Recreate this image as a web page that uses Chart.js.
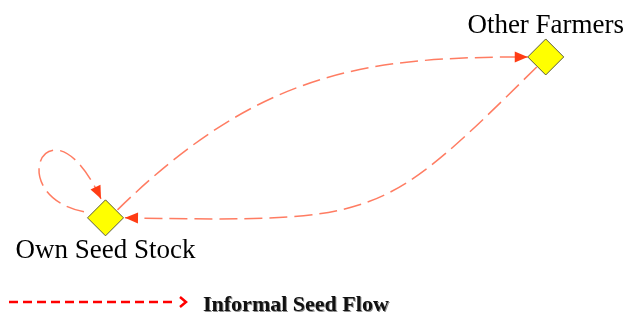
<!DOCTYPE html>
<html>
<head>
<meta charset="utf-8">
<script src="https://cdn.jsdelivr.net/npm/chart.js@4.4.0/dist/chart.umd.min.js"></script>
<style>
  body { margin: 0; background: #fff; }
  #wrap { width: 628px; height: 313px; }
</style>
</head>
<body>
<div id="wrap"><canvas id="seedChart" width="628" height="313"></canvas></div>
<script>
// nodes of the seed flow network (position on a 0-100 grid)
const nodeNames = ['Own Seed Stock', 'Other Farmers'];
const nodeX = [16.8, 86.9];
const nodeY = [30.4, 81.8];

// informal seed flows: from node -> to node
const flowFrom = [0, 1, 0];
const flowTo = [1, 0, 0];

const legendLabel = 'Informal Seed Flow';

// curve shape of each flow, pixels relative to its end nodes
const flowShape = [
  { start: [12, -8], end: [-18, 0], c1: [143, -140], c2: [-160, 0] },
  { start: [-9, 10], end: [19.5, 0], c1: [-157, 155], c2: [255, 4] },
  { start: [-21.5, -6], end: [-4.5, -19], c1: [-84, -17], c2: [-51, -109] }
];
// label baseline offset from node centre
const labelOffset = [40, -24];

const flowPlugin = {
  id: 'flows',
  beforeDatasetsDraw(chart) {
    const ctx = chart.ctx;
    const xs = chart.scales.x, ys = chart.scales.y;
    flowFrom.forEach((f, i) => {
      const t = flowTo[i], s = flowShape[i];
      const ax = xs.getPixelForValue(nodeX[f]), ay = ys.getPixelForValue(nodeY[f]);
      const bx = xs.getPixelForValue(nodeX[t]), by = ys.getPixelForValue(nodeY[t]);
      const p0 = [ax + s.start[0], ay + s.start[1]];
      const p3 = [bx + s.end[0], by + s.end[1]];
      const p1 = [p0[0] + s.c1[0], p0[1] + s.c1[1]];
      const p2 = [p3[0] + s.c2[0], p3[1] + s.c2[1]];
      ctx.save();
      ctx.strokeStyle = 'rgba(255,80,45,0.75)';
      ctx.lineWidth = 1.5;
      ctx.setLineDash([18, 7]);
      ctx.beginPath();
      ctx.moveTo(p0[0], p0[1]);
      ctx.bezierCurveTo(p1[0], p1[1], p2[0], p2[1], p3[0], p3[1]);
      ctx.stroke();
      // arrow head
      const ang = Math.atan2(p3[1] - p2[1], p3[0] - p2[0]);
      const len = 13, hw = 5.5;
      ctx.setLineDash([]);
      ctx.fillStyle = '#FF3C14';
      ctx.beginPath();
      ctx.moveTo(p3[0], p3[1]);
      ctx.lineTo(p3[0] - len * Math.cos(ang) + hw * Math.sin(ang), p3[1] - len * Math.sin(ang) - hw * Math.cos(ang));
      ctx.lineTo(p3[0] - len * Math.cos(ang) - hw * Math.sin(ang), p3[1] - len * Math.sin(ang) + hw * Math.cos(ang));
      ctx.closePath();
      ctx.fill();
      ctx.restore();
    });
  },
  afterDraw(chart) {
    const ctx = chart.ctx;
    const xs = chart.scales.x, ys = chart.scales.y;
    ctx.save();
    // node labels
    ctx.fillStyle = '#000';
    ctx.font = '27px "Liberation Serif", "Times New Roman", serif';
    ctx.textAlign = 'center';
    ctx.textBaseline = 'alphabetic';
    nodeNames.forEach((name, i) => {
      ctx.fillText(name, xs.getPixelForValue(nodeX[i]), ys.getPixelForValue(nodeY[i]) + labelOffset[i]);
    });
    // legend
    ctx.strokeStyle = '#FF0000';
    ctx.lineWidth = 2.5;
    ctx.setLineDash([9, 5]);
    ctx.beginPath();
    ctx.moveTo(9, 302);
    ctx.lineTo(177, 302);
    ctx.stroke();
    ctx.setLineDash([]);
    ctx.beginPath();
    ctx.moveTo(180, 297);
    ctx.lineTo(186, 302);
    ctx.lineTo(180, 307);
    ctx.stroke();
    ctx.font = 'bold 22px "Liberation Serif", "Times New Roman", serif';
    ctx.textAlign = 'left';
    ctx.fillStyle = '#111';
    ctx.shadowColor = 'rgba(0,0,0,0.45)';
    ctx.shadowOffsetX = 1;
    ctx.shadowOffsetY = 1;
    ctx.fillText(legendLabel, 203, 311);
    ctx.restore();
  }
};

new Chart(document.getElementById('seedChart'), {
  type: 'scatter',
  data: {
    datasets: [{
      data: nodeX.map((x, i) => ({ x: x, y: nodeY[i] })),
      pointStyle: 'rectRot',
      pointRadius: 18,
      pointHoverRadius: 18,
      backgroundColor: '#FFFF00',
      borderColor: '#5a5a3a',
      borderWidth: 1
    }]
  },
  options: {
    responsive: false,
    animation: false,
    layout: { padding: 0, autoPadding: false },
    plugins: {
      legend: { display: false },
      tooltip: { enabled: false }
    },
    scales: {
      x: { type: 'linear', min: 0, max: 100, display: false },
      y: { type: 'linear', min: 0, max: 100, display: false }
    }
  },
  plugins: [flowPlugin]
});
</script>
</body>
</html>
